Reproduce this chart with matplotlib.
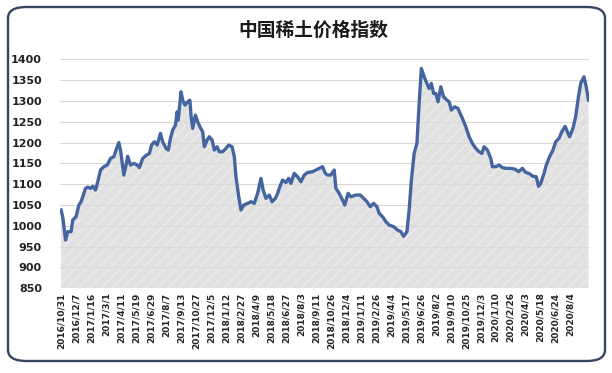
#!/usr/bin/env python3
# -*- coding: utf-8 -*-

# Import packages
import matplotlib

matplotlib.use("Agg")
import matplotlib.pyplot as plt
from matplotlib.patches import FancyBboxPatch

plt.rcParams["font.family"] = ["DejaVu Sans"]
plt.rcParams["hatch.linewidth"] = 0.7

# DATA
# trading-day number (from 2016/10/31) and index value
trade_day = [
    0, 3, 8, 12, 18, 21, 27, 32, 36, 39, 44, 48, 53, 57, 62, 66, 71, 77, 83,
    89, 95, 99, 104, 107, 113, 117, 120, 125, 131, 137, 141, 147, 154, 159,
    163, 168, 173, 179, 183, 189, 193, 197, 201, 206, 209, 211, 216, 219,
    223, 228, 232, 234, 237, 242, 246, 250, 255, 258, 263, 267, 272, 276,
    281, 285, 291, 297, 302, 308, 312, 315, 320, 324, 329, 336, 342, 348,
    354, 360, 364, 369, 375, 380, 386, 390, 394, 399, 405, 410, 414, 420,
    426, 432, 438, 444, 453, 462, 471, 476, 480, 486, 492, 495, 501, 507,
    511, 517, 522, 531, 539, 545, 551, 557, 563, 569, 573, 579, 585, 591,
    599, 606, 612, 617, 623, 627, 631, 636, 641, 645, 649, 654, 659, 663,
    667, 671, 675, 679, 684, 689, 695, 699, 703, 709, 715, 723, 729, 735,
    741, 747, 753, 758, 762, 768, 774, 777, 783, 789, 795, 801, 810, 818,
    824, 831, 837, 843, 850, 856, 860, 864, 870, 874, 880, 886, 891, 897,
    902, 908, 912, 916, 922, 927, 932, 936, 942, 946, 950,
]
index_value = [
    1038, 1021, 966, 986, 986, 1014, 1022, 1050, 1058, 1070, 1090, 1093,
    1090, 1095, 1086, 1106, 1134, 1142, 1146, 1162, 1166, 1182, 1200, 1182,
    1122, 1146, 1167, 1146, 1150, 1146, 1140, 1162, 1170, 1174, 1194, 1202,
    1194, 1222, 1202, 1186, 1182, 1210, 1230, 1242, 1274, 1254, 1322, 1302,
    1290, 1298, 1302, 1266, 1234, 1266, 1250, 1238, 1226, 1190, 1206, 1214,
    1206, 1182, 1190, 1178, 1178, 1186, 1194, 1190, 1166, 1118, 1070, 1038,
    1050, 1054, 1058, 1054, 1078, 1114, 1086, 1066, 1074, 1058, 1066, 1078,
    1094, 1110, 1104, 1114, 1102, 1126, 1118, 1106, 1122, 1128, 1130, 1136,
    1142, 1126, 1122, 1122, 1134, 1090, 1078, 1062, 1050, 1078, 1070, 1074,
    1074, 1066, 1058, 1046, 1054, 1046, 1030, 1022, 1010, 1002, 998, 990,
    986, 975, 986, 1038, 1110, 1174, 1198, 1294, 1378, 1358, 1342, 1330,
    1342, 1318, 1318, 1298, 1334, 1310, 1302, 1298, 1278, 1286, 1282, 1258,
    1238, 1214, 1198, 1186, 1178, 1174, 1190, 1182, 1162, 1142, 1142, 1146,
    1140, 1138, 1138, 1136, 1130, 1138, 1128, 1126, 1119, 1118, 1095, 1102,
    1126, 1146, 1166, 1182, 1202, 1210, 1226, 1239, 1226, 1214, 1234, 1262,
    1310, 1342, 1358, 1334, 1302,
]
tick_labels = [
    "2016/10/31", "2016/12/7", "2017/1/16", "2017/3/1", "2017/4/11",
    "2017/5/19", "2017/6/29", "2017/8/7", "2017/9/13", "2017/10/27",
    "2017/12/5", "2018/1/12", "2018/2/27", "2018/4/9", "2018/5/18",
    "2018/6/27", "2018/8/3", "2018/9/11", "2018/10/26", "2018/12/4",
    "2019/1/11", "2019/2/26", "2019/4/4", "2019/5/17", "2019/6/26",
    "2019/8/2", "2019/9/10", "2019/10/25", "2019/12/3", "2020/1/10",
    "2020/2/26", "2020/4/3", "2020/5/18", "2020/6/24", "2020/8/4",
]
tick_step = 27  # trading days between category labels
y_ticks = list(range(850, 1401, 50))
title = "中国稀土价格指数"

# PLOT
fig = plt.figure(figsize=(6.12, 3.73), dpi=100)
fig.patch.set_facecolor("white")

# rounded frame around the chart
frame = FancyBboxPatch(
    (8 / 612, 12 / 373),
    597 / 612,
    354 / 373,
    boxstyle="round,pad=0,rounding_size=0.03",
    transform=fig.transFigure,
    facecolor="none",
    edgecolor="#34465e",
    linewidth=1.7,
    zorder=-10,
)
fig.patches.append(frame)

ax = fig.add_axes([60 / 612, 1 - 288.3 / 373, 529 / 612, 229 / 373])
ax.set_facecolor("none")

# shaded area under the curve, with a faint light streak texture
ax.fill_between(
    trade_day,
    index_value,
    850,
    facecolor="#e1e1e1",
    edgecolor="#efefef",
    hatch="///",
    linewidth=0,
    zorder=1,
)
ax.plot(trade_day, index_value, color="#4565a1", linewidth=2.4, zorder=3,
        solid_joinstyle="round")

ax.set_ylim(850, 1400)
ax.set_xlim(-2, 951)
ax.set_yticks(y_ticks)
ax.set_xticks([i * tick_step for i in range(len(tick_labels))])
ax.set_xticklabels(tick_labels, rotation=90, fontsize=6.5, fontweight="bold",
                   color="#262626")
for lab in ax.get_yticklabels():
    lab.set_fontsize(8)
    lab.set_fontweight("bold")
    lab.set_color("#222222")
ax.tick_params(axis="both", length=0)
ax.tick_params(axis="y", pad=13)
ax.tick_params(axis="x", pad=3)
ax.grid(axis="y", color="#d9d9d9", linewidth=0.8, zorder=2)
ax.set_axisbelow(False)
for spine in ax.spines.values():
    spine.set_visible(False)

fig.text(313 / 612, 1 - 30 / 373, title, ha="center", va="center",
         fontsize=13.5, fontweight="bold",
         family=["Noto Sans CJK SC", "DejaVu Sans"], color="#1a1a1a")

fig.savefig("out.png", dpi=100)
plt.close(fig)
